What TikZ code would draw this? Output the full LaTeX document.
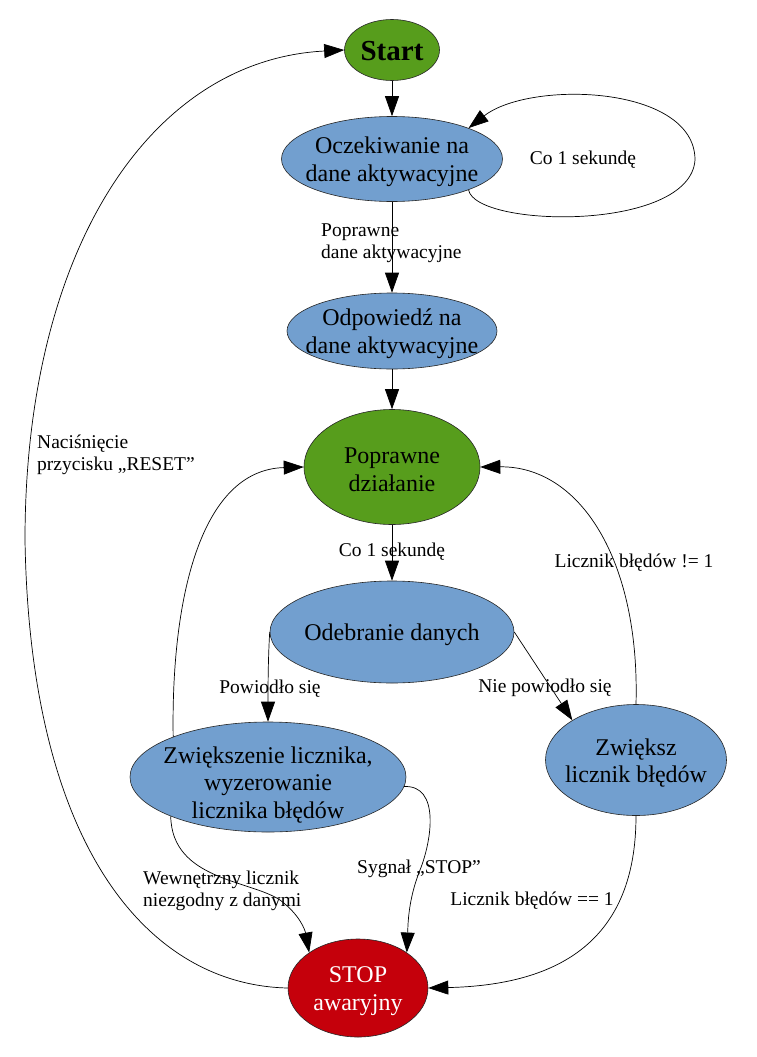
\documentclass[tikz,border=0pt]{standalone}
\usepackage{fontspec}
\setmainfont{Liberation Serif}
\usetikzlibrary{shapes.geometric,arrows.meta}
\definecolor{cgreen}{HTML}{579D1C}
\definecolor{cblue}{HTML}{729FCF}
\definecolor{cred}{HTML}{C5000B}
\begin{document}
\begin{tikzpicture}[x=1pt,y=-1pt,
  state/.style={ellipse, draw=black!85, line width=0.6pt, inner sep=0pt},
  ntext/.style={align=center, font=\fontsize{24}{27.6}\selectfont, inner sep=0pt, yshift=-3pt},
  elabel/.style={align=center, font=\fontsize{19.5}{22.4}\selectfont, inner sep=0pt},
  arr/.style={-{Triangle[length=20pt,width=14pt]}, line width=0.7pt},
]
\useasboundingbox (0,0) rectangle (757,1057);
% states
\node[state, fill=cgreen, minimum width=95pt, minimum height=61pt,
  label={[ntext,yshift=2pt,font=\fontsize{29}{33}\selectfont\bfseries]center:Start}] (start) at (392,50) {};
\node[state, fill=cblue, minimum width=221pt, minimum height=85pt,
  label={[ntext]center:{Oczekiwanie na\\dane aktywacyjne}}] (ocz) at (392,159) {};
\node[state, fill=cblue, minimum width=210pt, minimum height=76pt,
  label={[ntext]center:{Odpowiedź na\\dane aktywacyjne}}] (odp) at (392,331) {};
\node[state, fill=cgreen, minimum width=176pt, minimum height=115pt,
  label={[ntext]center:{Poprawne\\działanie}}] (popr) at (392,467) {};
\node[state, fill=cblue, minimum width=244pt, minimum height=102pt,
  label={[ntext]center:{Odebranie danych}}] (odeb) at (392,632) {};
\node[state, fill=cblue, minimum width=276pt, minimum height=110pt,
  label={[ntext,yshift=-5pt]center:{Zwiększenie licznika,\\wyzerowanie\\licznika błędów}}] (zw) at (268,777) {};
\node[state, fill=cblue, minimum width=181pt, minimum height=111pt,
  label={[ntext]center:{Zwiększ\\licznik błędów}}] (zwk) at (636,760) {};
\node[state, fill=cred, minimum width=140pt, minimum height=98pt,
  label={[ntext,text=white]center:{STOP\\awaryjny}}] (stop) at (358,988) {};
% connectors
\draw[arr] (start) -- (ocz);
\draw[arr] (ocz.-22) .. controls (476,228) and (690,232) .. (695,160)
  .. controls (695,85) and (530,80) .. (ocz.22);
\draw[arr] (ocz) -- (odp);
\draw[arr] (odp) -- (popr);
\draw[arr] (popr) -- (odeb);
\draw[arr] (odeb.west) .. controls (268,660) and (268,690) .. (zw.north);
\draw[arr] (odeb.east) -- (zwk.148);
\draw[arr] (zw.157) .. controls (171,600) and (200,470) .. (popr.west);
\draw[arr] (zwk.north) .. controls (640,560) and (580,466) .. (popr.east);
\draw[arr] (zwk.south) .. controls (636,940) and (560,985) .. (stop.east);
\draw[arr] (zw.-4) .. controls (440,785) and (432,840) .. (420,870)
  .. controls (408,900) and (408,925) .. (stop.36);
\draw[arr] (zw.202) .. controls (172,880) and (250,880) .. (280,900)
  .. controls (300,915) and (305,930) .. (stop.144);
\draw[arr] (stop.west) .. controls (150,985) and (30,850) .. (25,540)
  .. controls (25,250) and (150,60) .. (start.west);
% edge labels
\node[elabel] (l1) at (583,160) {Co 1 sekundę};
\node[elabel, align=left, anchor=west] (l2) at (321,243) {Poprawne\\dane aktywacyjne};
\node[elabel] (l3) at (392,552) {Co 1 sekundę};
\node[elabel] (l4) at (270,689) {Powiodło się};
\node[elabel] (l5) at (545,688) {Nie powiodło się};
\node[elabel] (l6) at (634,563) {Licznik błędów != 1};
\node[elabel] (l7) at (419,869) {Sygnał „STOP”};
\node[elabel, align=left, anchor=west] (l8) at (143,891) {Wewnętrzny licznik\\niezgodny z danymi};
\node[elabel] (l9) at (532,901) {Licznik błędów == 1};
\node[elabel, align=left, anchor=west] (l10) at (37,455) {Naciśnięcie\\przycisku „RESET”};
\end{tikzpicture}
\end{document}
